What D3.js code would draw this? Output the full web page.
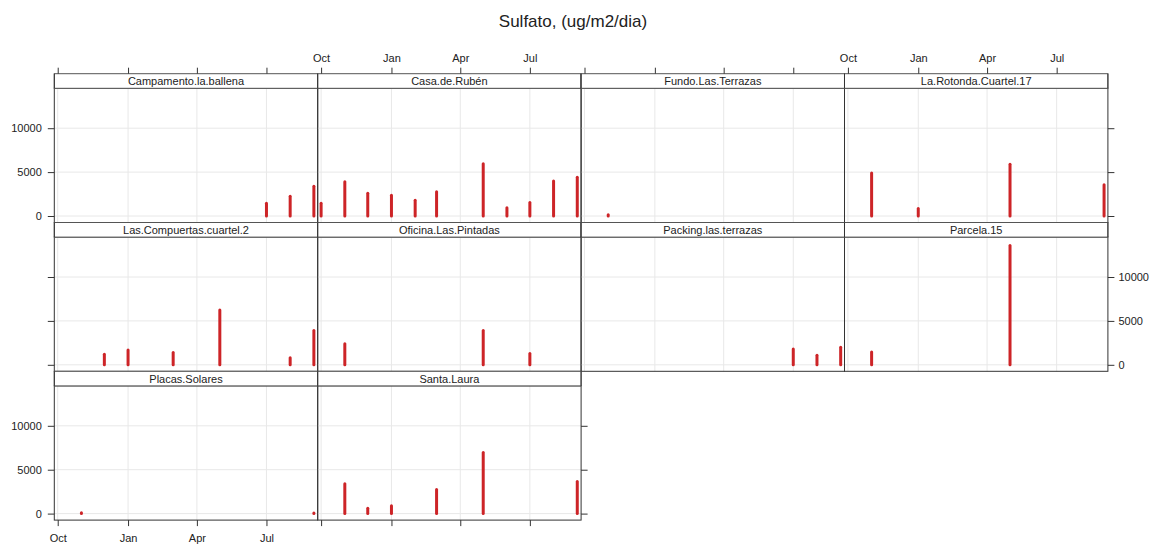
<!DOCTYPE html>
<html>
<head>
<meta charset="utf-8">
<script src="https://cdn.jsdelivr.net/npm/d3@7"></script>
<style>
  body { margin: 0; background: #fff; }
  svg text { font-family: "Liberation Sans", Arial, sans-serif; }
</style>
</head>
<body>
<svg id="chart" width="1150" height="545"></svg>
<script>
// Monthly sulphate deposition per monitoring station, [sample date, ug/m2/day]
const campamento = [["2017-07-01", 1450], ["2017-08-01", 2250], ["2017-09-01", 3400]];
const casaRuben = [["2016-10-01", 1450], ["2016-11-01", 3900], ["2016-12-01", 2600], ["2017-01-01", 2350],
                   ["2017-02-01", 1800], ["2017-03-01", 2750], ["2017-05-01", 5950], ["2017-06-01", 950],
                   ["2017-07-01", 1550], ["2017-08-01", 4000], ["2017-09-01", 4400]];
const fundoTerrazas = [["2016-11-01", 150]];
const laRotonda = [["2016-11-01", 4900], ["2017-01-01", 850], ["2017-05-01", 5900], ["2017-09-01", 3550]];
const lasCompuertas = [["2016-12-01", 1200], ["2017-01-01", 1700], ["2017-03-01", 1400], ["2017-05-01", 6250],
                       ["2017-08-01", 800], ["2017-09-01", 3900]];
const oficinaPintadas = [["2016-11-01", 2400], ["2017-05-01", 3900], ["2017-07-01", 1300]];
const packingTerrazas = [["2017-07-01", 1800], ["2017-08-01", 1100], ["2017-09-01", 2000]];
const parcela15 = [["2016-11-01", 1450], ["2017-05-01", 13600]];
const placasSolares = [["2016-11-01", 100], ["2017-09-01", 80]];
const santaLaura = [["2016-11-01", 3400], ["2016-12-01", 600], ["2017-01-01", 900], ["2017-03-01", 2750],
                    ["2017-05-01", 6950], ["2017-09-01", 3650]];

const stationNames = ["Campamento.la.ballena", "Casa.de.Rubén", "Fundo.Las.Terrazas", "La.Rotonda.Cuartel.17",
                      "Las.Compuertas.cuartel.2", "Oficina.Las.Pintadas", "Packing.las.terrazas", "Parcela.15",
                      "Placas.Solares", "Santa.Laura"];
const stationSeries = [campamento, casaRuben, fundoTerrazas, laRotonda, lasCompuertas,
                       oficinaPintadas, packingTerrazas, parcela15, placasSolares, santaLaura];

const xTickDates = ["2016-10-01", "2017-01-01", "2017-04-01", "2017-07-01"];
const xTickLabels = ["Oct", "Jan", "Apr", "Jul"];
const yTickValues = [0, 5000, 10000];
const xLimits = ["2016-09-26T13:00:00Z", "2017-09-06T00:00:00Z"];
const yLimits = [-740, 14545];

const chartTitle = "Sulfato, (ug/m2/dia)";

// ---- layout of the 4 x 3 trellis ----
const nCols = 4;
const left0 = 54.3, colW = 263.4;
const top0 = 73.7, rowH = 148.8, stripH = 14.6;
const plotH = rowH - stripH;

const svg = d3.select("#chart");
svg.append("rect").attr("width", 1150).attr("height", 545).attr("fill", "#fff");

const parse = s => new Date(s.length > 10 ? s : s + "T00:00:00Z");
const x = d3.scaleUtc().domain(xLimits.map(parse)).range([0, colW]);
const y = d3.scaleLinear().domain(yLimits).range([plotH, 0]);
const tickDates = xTickDates.map(parse);
const fmtX = d => xTickLabels[tickDates.findIndex(t => +t === +d)];

const barColor = "#cd2427";
const gridColor = "#e8e8e8";
const borderColor = "#333";
const textColor = "#222";

svg.append("text")
  .attr("x", 573).attr("y", 27)
  .attr("text-anchor", "middle")
  .attr("font-size", 17)
  .attr("fill", textColor)
  .text(chartTitle);

const panelPos = i => ({ col: i % nCols, row: Math.floor(i / nCols) });

stationNames.forEach((name, i) => {
  const { col, row } = panelPos(i);
  const px = left0 + col * colW;
  const py = top0 + row * rowH;

  const g = svg.append("g").attr("transform", `translate(${px},${py + stripH})`);

  // reference grid
  g.selectAll("line.vgrid").data(tickDates).join("line")
    .attr("x1", d => x(d)).attr("x2", d => x(d))
    .attr("y1", 0).attr("y2", plotH)
    .attr("stroke", gridColor).attr("stroke-width", 1);
  g.selectAll("line.hgrid").data(yTickValues).join("line")
    .attr("x1", 0).attr("x2", colW)
    .attr("y1", d => y(d)).attr("y2", d => y(d))
    .attr("stroke", gridColor).attr("stroke-width", 1);

  // vertical "h" bars from zero
  g.selectAll("line.bar").data(stationSeries[i]).join("line")
    .attr("x1", d => x(parse(d[0]))).attr("x2", d => x(parse(d[0])))
    .attr("y1", y(0)).attr("y2", d => y(d[1]))
    .attr("stroke", barColor).attr("stroke-width", 3)
    .attr("stroke-linecap", "round");

  // panel frame
  g.append("rect")
    .attr("x", 0).attr("y", 0).attr("width", colW).attr("height", plotH)
    .attr("fill", "none").attr("stroke", borderColor).attr("stroke-width", 1);

  // strip with station name
  const s = svg.append("g").attr("transform", `translate(${px},${py})`);
  s.append("rect")
    .attr("width", colW).attr("height", stripH)
    .attr("fill", "#fff").attr("stroke", "#555").attr("stroke-width", 1);
  s.append("line").attr("x1", 0).attr("x2", 0).attr("y1", 0).attr("y2", stripH)
    .attr("stroke", borderColor);
  s.append("line").attr("x1", colW).attr("x2", colW).attr("y1", 0).attr("y2", stripH)
    .attr("stroke", borderColor);
  s.append("text")
    .attr("x", colW / 2).attr("y", stripH / 2)
    .attr("dy", "0.36em")
    .attr("text-anchor", "middle")
    .attr("font-size", 11)
    .attr("fill", textColor)
    .text(name);
});

// ---- axes (alternating sides, lattice style) ----
function styleAxis(g) {
  g.select(".domain").remove();
  g.selectAll(".tick line").attr("stroke", borderColor);
  g.selectAll(".tick text").attr("fill", textColor).attr("font-size", 11)
    .attr("font-family", "Liberation Sans, Arial, sans-serif");
}

function xAxis(gen, withLabels) {
  return gen(x).tickValues(tickDates).tickSize(6).tickPadding(6).tickSizeOuter(0)
    .tickFormat(withLabels ? fmtX : () => "");
}
function yAxis(gen, withLabels, pad) {
  return gen(y).tickValues(yTickValues).tickSize(6.5).tickPadding(pad).tickSizeOuter(0)
    .tickFormat(withLabels ? d3.format("d") : () => "");
}

// top axis over the first row
for (let c = 0; c < nCols; c++) {
  svg.append("g")
    .attr("transform", `translate(${left0 + c * colW},${top0})`)
    .call(xAxis(d3.axisTop, c % 2 === 1))
    .call(styleAxis);
}
// bottom axis under the last row (two panels)
const lastRow = 2;
for (let c = 0; c < 2; c++) {
  svg.append("g")
    .attr("transform", `translate(${left0 + c * colW},${top0 + (lastRow + 1) * rowH})`)
    .call(xAxis(d3.axisBottom, c % 2 === 0).tickPadding(8))
    .call(styleAxis);
}
// left axes
for (let r = 0; r < 3; r++) {
  svg.append("g")
    .attr("transform", `translate(${left0},${top0 + r * rowH + stripH})`)
    .call(yAxis(d3.axisLeft, r % 2 === 0, 6))
    .call(styleAxis);
}
// right axes
const rightCols = [3, 3, 1];
rightCols.forEach((c, r) => {
  svg.append("g")
    .attr("transform", `translate(${left0 + (c + 1) * colW},${top0 + r * rowH + stripH})`)
    .call(yAxis(d3.axisRight, r % 2 === 1, 4))
    .call(styleAxis);
});
</script>
</body>
</html>
